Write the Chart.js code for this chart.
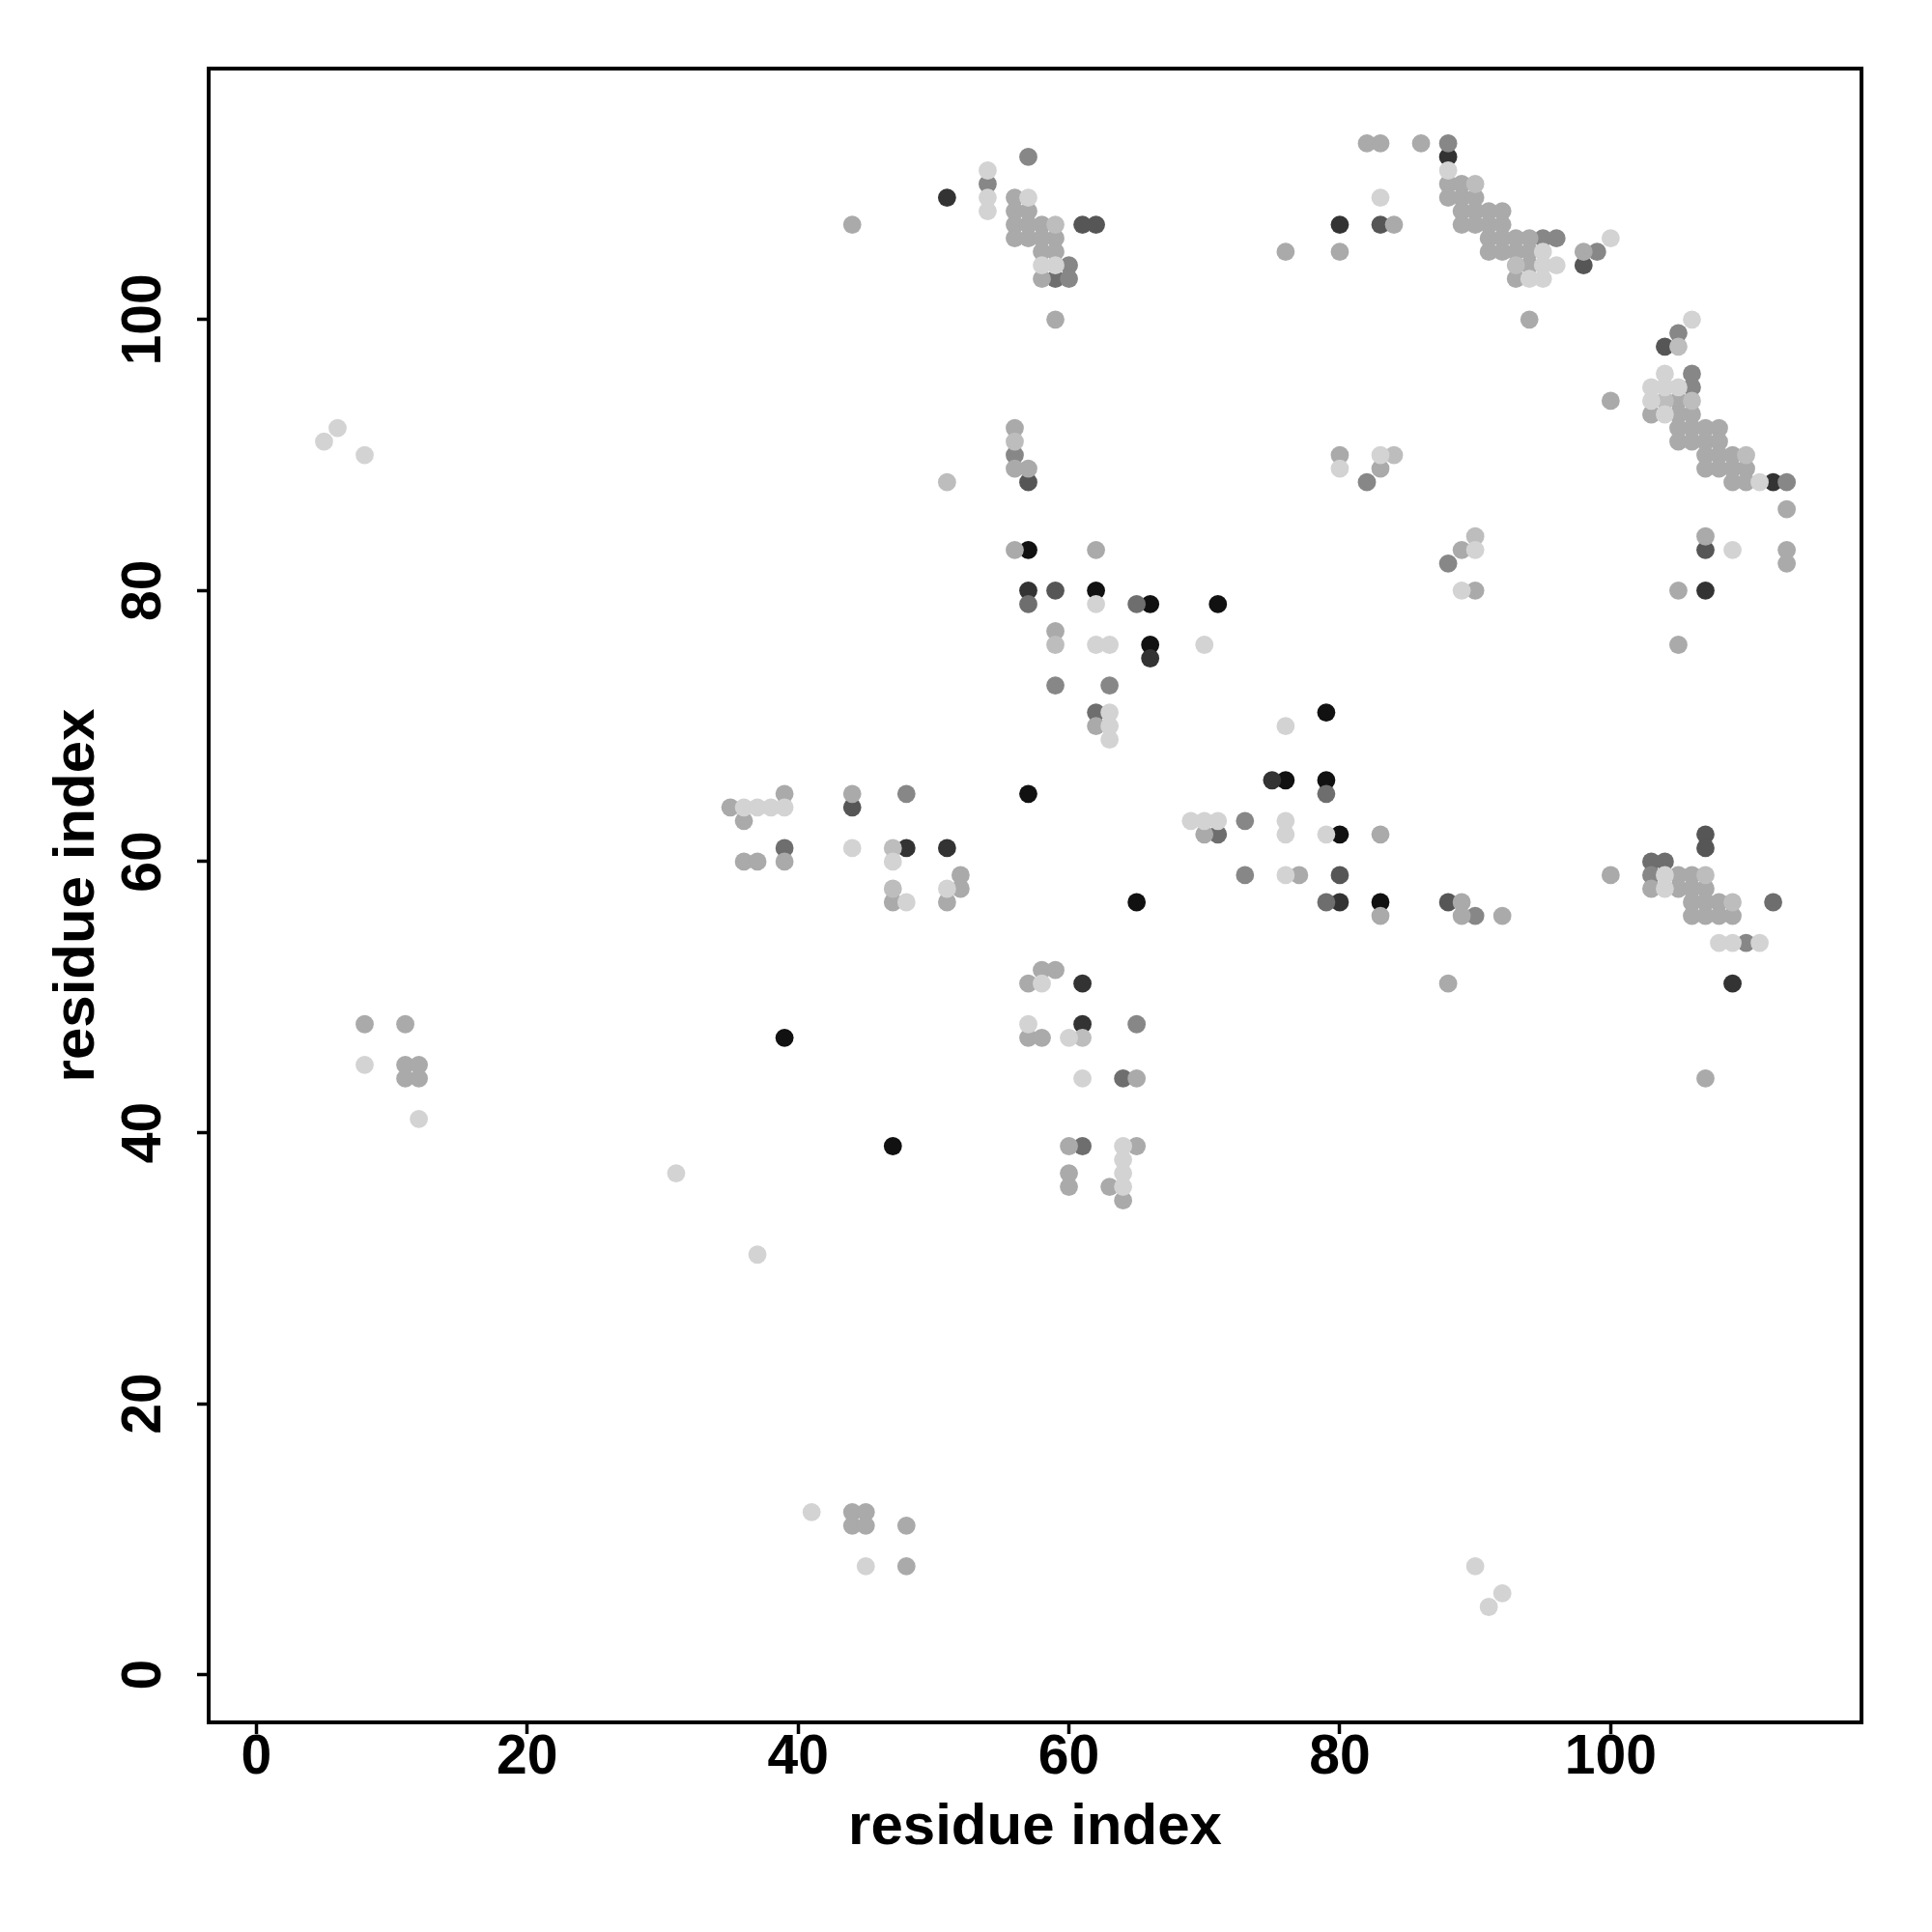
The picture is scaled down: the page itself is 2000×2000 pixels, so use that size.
<!DOCTYPE html>
<html><head><meta charset="utf-8">
<script src="https://cdn.jsdelivr.net/npm/chart.js@4/dist/chart.umd.min.js"></script>
<style>html,body{margin:0;padding:0;background:#fff}#wrap{width:2000px;height:2000px}</style>
</head><body><div id="wrap"><canvas id="c" width="2000" height="2000"></canvas></div>
<script>
// ---- data (residue i, residue j) grouped by shade level ----
const xTickValues = [0, 20, 40, 60, 80, 100];
const yTickValues = [0, 20, 40, 60, 80, 100];
const xTitle = "residue index";
const yTitle = "residue index";

const level1 = [[54,111],[54,109],[54,108],[57,109],[58,104],[59,104],[83,109],[95,105],[100,106],[95,104],[96,104],[94,103],[95,103],[88,111],
 [106,100],[104,96],[103,95],[104,95],[105,95],[103,94],[104,93],[111,88],[109,83],
 [62,79],[62,76],[63,76],[70,76],[63,71],[63,70],[63,69],
 [80,89],[83,90],[90,83],[89,80],
 [36,64],[37,64],[38,64],[39,64],[44,61],[47,60],[48,57],[51,58],
 [76,70],[69,63],[70,63],[71,63],[76,63],[76,62],[79,62],[76,59],
 [104,59],[104,58],[108,54],[109,54],[111,54],
 [58,51],[57,48],[60,47],[61,44],[64,39],[64,38],[64,37],[64,36],
 [6,92],[5,91],[8,90],[8,45],[12,41],[41,12],[45,8],[31,37],[37,31],[90,8],[91,5],[92,6]];
const level2 = [[59,107],[90,110],[93,104],[105,98],[104,94],[106,94],[110,90],[56,91],[59,76],[84,90],[90,84],
 [47,61],[47,58],[107,59],[109,57],[61,47],[51,88]];
const level3 = [[44,107],[56,109],[56,108],[57,108],[56,107],[57,107],[58,107],[56,106],[57,106],[58,106],[59,106],[58,105],[59,105],[58,103],[59,100],
 [82,113],[83,113],[86,113],[88,110],[89,110],[88,109],[89,109],[90,109],[89,108],[90,108],[91,108],[92,108],[89,107],[90,107],[91,107],[92,107],[84,107],
 [91,106],[92,106],[93,106],[94,106],[91,105],[92,105],[93,105],[94,105],[76,105],[80,105],[98,105],[94,104],[93,103],[94,100],
 [100,94],[105,94],[103,93],[105,93],[106,93],[105,92],[106,92],[107,92],[108,92],[105,91],[106,91],[107,91],[108,91],[107,90],[108,90],[109,90],
 [107,89],[108,89],[109,89],[110,89],[109,88],[110,88],[113,86],[113,83],[113,82],[107,84],[105,80],[105,76],
 [56,92],[56,89],[57,89],[56,83],[62,83],[59,77],[62,70],[80,90],[83,89],[89,83],[90,80],
 [35,64],[39,65],[36,63],[39,60],[36,60],[37,60],[44,65],[47,57],[52,59],[52,58],[51,57],
 [70,62],[83,62],[77,59],[83,56],[89,57],[89,56],[92,56],
 [100,59],[105,59],[106,59],[103,58],[105,58],[106,58],[107,58],[106,57],[107,57],[108,57],[106,56],[107,56],[108,56],[109,56],[107,44],
 [58,52],[59,52],[57,51],[57,47],[58,47],[65,44],[60,39],[65,39],[60,37],[60,36],[63,36],[64,35],
 [8,48],[11,48],[11,45],[12,45],[11,44],[12,44],[44,12],[45,12],[44,11],[45,11],[48,11],[48,8],[88,51]];
const level4 = [[57,112],[54,110],[60,104],[60,103],[88,113],[95,106],[96,106],[99,105],[105,99],[106,96],[106,95],[113,88],[56,90],
 [59,73],[63,73],[82,88],[88,82],[48,65],[73,63],[73,59],[90,56],[103,59],[65,48],[110,54]];
const level5 = [[59,103],[57,79],[65,79],[62,71],[39,61],[79,65],[71,62],[79,57],[103,60],[104,60],[112,57],[61,39],[64,44]];
const level6 = [[61,107],[62,107],[83,107],[98,104],[104,98],[107,83],[57,88],[59,80],[44,64],[80,59],[88,57],[107,62],[107,61]];
const level7 = [[51,109],[88,112],[80,107],[112,88],[107,80],[57,80],[66,75],[48,61],[51,61],[75,66],[80,57],[109,51],[61,51],[61,48]];
const level8 = [[57,83],[62,80],[66,79],[71,79],[66,76],[79,71],[76,66],[79,66],[80,62],[83,57],[39,47],[47,39],[57,65],[65,57]];

// ---- styles ----
const levelColors = ["#d3d3d3","#bdbdbd","#aaaaaa","#878787","#6e6e6e","#565656","#333333","#111111"];
const levels = [level1, level2, level3, level4, level5, level6, level7, level8];
const FONT = "'Liberation Sans', Arial, Helvetica, sans-serif";
const FS = 57;
const TFS = 60;
const axisMin = -3.52, axisMax = 118.52;

const datasets = levels.map((pts, i) => ({
  label: "level " + (i + 1),
  data: pts.map(p => ({x: p[0], y: p[1]})),
  backgroundColor: levelColors[i],
  borderWidth: 0,
  pointRadius: 9.4,
  pointHoverRadius: 9.4
}));

const boxAndYLabels = {
  id: 'boxAndYLabels',
  afterDraw(chart) {
    const {ctx, chartArea: a} = chart;
    const ys = chart.scales.y;
    ctx.save();
    ctx.lineWidth = 4;
    ctx.strokeStyle = '#000';
    ctx.strokeRect(a.left, a.top, a.right - a.left, a.bottom - a.top);
    ctx.fillStyle = '#000';
    ctx.font = 'bold ' + FS + 'px ' + FONT;
    ctx.textAlign = 'center';
    ctx.textBaseline = 'middle';
    ys.ticks.forEach(t => {
      const py = ys.getPixelForValue(t.value);
      ctx.save();
      ctx.translate(150, py);
      ctx.rotate(-Math.PI / 2);
      ctx.fillText(String(t.value), 0, 0);
      ctx.restore();
    });
    ctx.restore();
  }
};

new Chart(document.getElementById('c'), {
  type: 'scatter',
  data: {datasets},
  plugins: [boxAndYLabels],
  options: {
    responsive: false,
    animation: false,
    events: [],
    layout: {padding: {top: 71, right: 73, left: 0, bottom: 0}},
    plugins: {legend: {display: false}, tooltip: {enabled: false}},
    scales: {
      x: {
        type: 'linear', min: axisMin, max: axisMax,
        afterBuildTicks(scale) { scale.ticks = xTickValues.map(v => ({value: v})); },
        afterFit(scale) { scale.height = 217; },
        ticks: {
          includeBounds: false, stepSize: 20, maxRotation: 0, minRotation: 0, autoSkip: false,
          color: '#000', padding: 0,
          font: {family: FONT, size: FS, weight: 'bold', lineHeight: 0.9}
        },
        grid: {drawOnChartArea: false, drawTicks: true, tickLength: 12, tickWidth: 3.5, tickColor: '#000'},
        border: {display: false},
        title: {display: true, text: xTitle, color: '#000',
          font: {family: FONT, size: TFS, weight: 'bold', lineHeight: 1.2},
          padding: {top: 0, bottom: 72}}
      },
      y: {
        type: 'linear', min: axisMin, max: axisMax,
        afterBuildTicks(scale) { scale.ticks = yTickValues.map(v => ({value: v})); },
        afterFit(scale) { scale.width = 216; },
        ticks: {display: false, includeBounds: false, stepSize: 20},
        grid: {drawOnChartArea: false, drawTicks: true, tickLength: 12, tickWidth: 3.5, tickColor: '#000'},
        border: {display: false},
        title: {display: true, text: yTitle, color: '#000',
          font: {family: FONT, size: TFS, weight: 'bold', lineHeight: 1.2},
          padding: {top: 44, bottom: 0}}
      }
    }
  }
});
</script>
</body></html>
